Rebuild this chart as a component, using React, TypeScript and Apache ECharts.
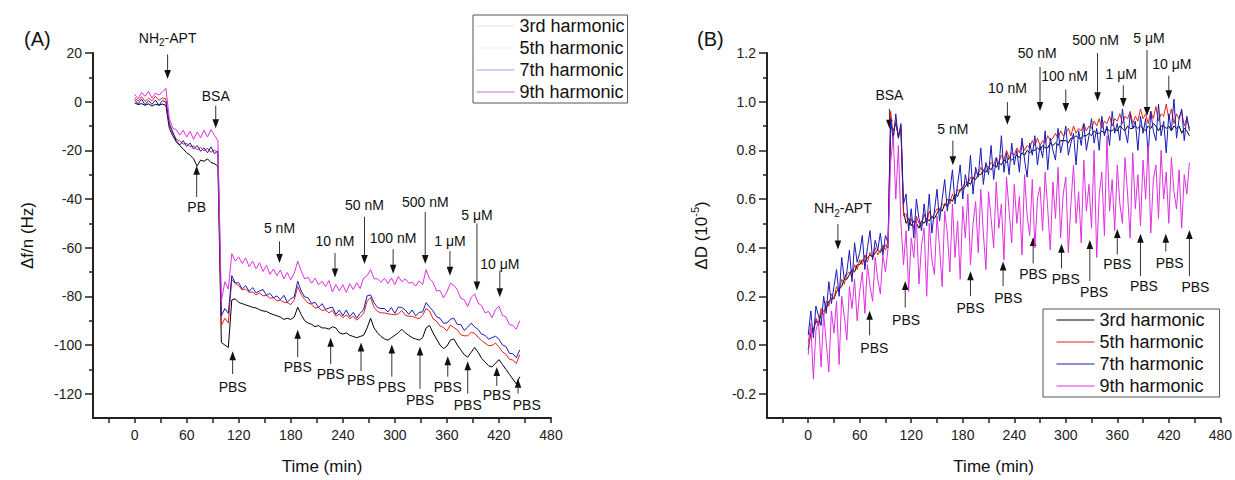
import React, { useEffect, useRef } from 'react';
import * as echarts from 'echarts';

const FONT = '"Liberation Sans", Arial, Helvetica, sans-serif';
const NAMES = ['3rd harmonic', '5th harmonic', '7th harmonic', '9th harmonic'];
const COLORS = ['#000000', '#e3211c', '#1a1ab8', '#e030e0'];
const FADED = ['#e2e2e2', '#ebebeb', '#aaa3d6', '#d86ad8'];

// ---------- Panel A: frequency shift (Hz) ----------
const timeA = [0,4,8,12,16,20,24,28,32,36,40,44,48,52,56,60,64,68,72,76,80,84,88,92,96,100,104,108,112,116,120,124,128,132,136,140,144,148,152,156,160,164,168,172,176,180,184,188,192,196,200,204,208,212,216,220,224,228,232,236,240,244,248,252,256,260,264,268,272,276,280,284,288,292,296,300,304,308,312,316,320,324,328,332,336,340,344,348,352,356,360,364,368,372,376,380,384,388,392,396,400,404,408,412,416,420,424,428,432,436,440,444];

const dfH3 = [-0.5,-1.2,-0.8,-1.5,-0.9,-1.8,-1.1,-1.4,-1.0,-1.5,
  -11,-14,-16.5,-18,-19.5,-21,-22,-23.5,-26.5,-24,
  -24.5,-23.5,-25,-25.5,-26.5,-99,-100,-101,-81.5,-81,
  -82.5,-83,-83.5,-84,-84.5,-84.8,-85.5,-86,-86.2,-87,
  -87.5,-88,-88.5,-89.5,-89,-89.5,-88.5,-84.5,-87.5,-90,
  -91,-91.5,-92.5,-92,-93,-93,-93.5,-92.5,-93,-95,
  -95.5,-95,-96,-96.5,-97,-96.5,-96,-93,-89,-93,
  -95,-96.5,-97.5,-98,-97,-96,-95,-93.5,-95,-96,
  -97,-97.5,-98,-97,-93,-92,-95,-97.5,-100,-101.5,
  -100.5,-98,-97.5,-100,-102,-104,-105,-103,-101,-103,
  -105.5,-107,-108.5,-109,-107.5,-106,-108,-110,-112,-114,
  -116,-113];
const dfH5 = [1.6,0.3,2,0.1,1.4,0.4,2.2,0.6,1.5,1.2,
  -9.5,-13,-15.4,-16.2,-17.4,-17.2,-18.4,-18.2,-19.8,-18.8,
  -20.2,-19.2,-20.8,-19.8,-21.2,-92,-89,-91,-73,-74.8,
  -75.6,-77.4,-77,-78.4,-78.2,-79.4,-78.6,-79.8,-79.6,-80.8,
  -80.6,-81.8,-81.6,-82.4,-82.6,-83.4,-81.5,-76,-79.2,-81.2,
  -82.8,-83.2,-84.8,-84.6,-85.8,-85.6,-86.8,-85.8,-88.2,-87.2,
  -88.8,-87.6,-89.2,-88.2,-89.8,-88.6,-87,-82,-80.5,-84.5,
  -86.2,-86.8,-86.8,-87.2,-87.4,-87.6,-87.2,-85.8,-87.8,-88.2,
  -88.2,-88.8,-89.2,-87.8,-85,-86,-89.2,-90.2,-92.2,-92.8,
  -94.2,-91.8,-92.8,-93.8,-95.8,-96.2,-96.2,-94.8,-95.2,-96.8,
  -98.2,-99.2,-100.2,-100.2,-99.2,-100.8,-102.8,-103.8,-105.8,-106.2,
  -107.6,-104];
const dfH7 = [0.8,-0.9,1,-1.3,0.4,-1.1,0.7,-1.6,0.5,-0.2,
  -9,-12.5,-16,-17.8,-16,-18.4,-17,-19.5,-18,-20.4,
  -19,-21,-18.6,-21.4,-20.2,-88,-85,-87,-71.5,-74.5,
  -74.4,-77,-75.6,-78,-76.4,-78.6,-77.8,-77.2,-79.6,-78.8,
  -80.6,-79.8,-81.4,-79.6,-82.4,-81,-80.2,-73.8,-77.8,-80.2,
  -80.6,-83,-82.4,-84.6,-83,-85.4,-84.8,-84.4,-87.4,-85.6,
  -88,-85.6,-88.4,-86.6,-89,-87,-85.4,-79.8,-79.4,-82.6,
  -84.6,-85,-85,-86.4,-84.6,-87,-84.4,-84.6,-85.6,-87.4,
  -85.6,-88,-86.6,-86.4,-82.6,-84.4,-86,-88.4,-89,-91,
  -91,-89.4,-89,-91.6,-91.6,-94,-92.6,-91,-92.6,-93.6,
  -95.6,-96,-97.6,-97,-96.4,-97.6,-100,-100.6,-103.4,-103.6,
  -105.2,-102];
const dfH9 = [3,1.2,3.8,2.2,4.2,1.5,3.5,2.8,4,5.5,
  -7,-11,-11.5,-13.8,-11.8,-14.5,-12.2,-15.5,-12.5,-14.8,
  -11.8,-14.5,-11.5,-13.8,-16,-82,-74,-77,-62.5,-65.5,
  -63.8,-66.5,-64.2,-67.8,-65.5,-68.6,-66.2,-69.8,-67.2,-71,
  -68.8,-71.5,-69.2,-72.8,-70.2,-73.2,-70.5,-65.5,-69.5,-72.8,
  -72.2,-74.6,-72.5,-75.2,-73.8,-76,-73.5,-78.2,-75.2,-77.8,
  -75.2,-78.4,-74.8,-77.2,-74.4,-76.8,-72.5,-71.5,-69,-72.8,
  -72.8,-74.2,-72.6,-74.8,-72.4,-75.2,-71.8,-74,-72.8,-74.6,
  -74.2,-75.8,-73.6,-75.2,-69,-72.8,-74.2,-77.8,-77.6,-80.6,
  -78.2,-74.6,-75.5,-77.2,-80.8,-81.4,-84.2,-80.4,-79,-82.8,
  -83.8,-86.8,-86.2,-88.8,-85.4,-84,-87.8,-88.4,-91.6,-92,
  -93.5,-90];

// ---------- Panel B: dissipation (1e-5) ----------
const timeB = [0,3,6,9,12,15,18,21,24,27,30,33,36,39,42,45,48,51,54,57,60,63,66,69,72,75,78,81,84,87,90,93,96,99,102,105,108,111,114,117,120,123,126,129,132,135,138,141,144,147,150,153,156,159,162,165,168,171,174,177,180,183,186,189,192,195,198,201,204,207,210,213,216,219,222,225,228,231,234,237,240,243,246,249,252,255,258,261,264,267,270,273,276,279,282,285,288,291,294,297,300,303,306,309,312,315,318,321,324,327,330,333,336,339,342,345,348,351,354,357,360,363,366,369,372,375,378,381,384,387,390,393,396,399,402,405,408,411,414,417,420,423,426,429,432,435,438,441,444];

const dD3 = [-0.02,0.05,0.06,0.1,0.08,0.13,0.14,0.15,0.18,0.19,
  0.19,0.22,0.23,0.24,0.27,0.27,0.29,0.31,0.3,0.33,
  0.33,0.35,0.34,0.36,0.37,0.36,0.38,0.39,0.38,0.4,
  0.41,0.4,0.9,0.88,0.91,0.86,0.89,0.55,0.5,0.52,
  0.49,0.51,0.5,0.48,0.51,0.5,0.52,0.51,0.53,0.52,
  0.54,0.56,0.55,0.58,0.57,0.6,0.59,0.62,0.61,0.64,
  0.64,0.65,0.67,0.66,0.69,0.68,0.7,0.7,0.72,0.71,
  0.73,0.72,0.74,0.73,0.75,0.74,0.76,0.75,0.77,0.76,
  0.77,0.78,0.77,0.79,0.78,0.8,0.79,0.8,0.8,0.81,
  0.8,0.82,0.81,0.81,0.83,0.82,0.83,0.82,0.84,0.84,
  0.84,0.83,0.85,0.85,0.86,0.85,0.85,0.86,0.86,0.87,
  0.86,0.88,0.87,0.87,0.88,0.87,0.89,0.88,0.88,0.89,
  0.88,0.9,0.89,0.88,0.9,0.89,0.89,0.9,0.89,0.9,
  0.89,0.88,0.9,0.89,0.91,0.9,0.88,0.9,0.9,0.89,
  0.9,0.88,0.9,0.89,0.9,0.87,0.89,0.88,0.86];
const dD5 = [0.01,0.07,0.05,0.11,0.09,0.15,0.12,0.18,0.16,0.21,
  0.19,0.24,0.22,0.27,0.25,0.29,0.3,0.28,0.33,0.31,
  0.35,0.33,0.37,0.34,0.38,0.36,0.4,0.37,0.39,0.41,
  0.39,0.43,0.96,0.86,0.92,0.85,0.9,0.53,0.54,0.49,
  0.52,0.48,0.53,0.5,0.49,0.54,0.5,0.55,0.52,0.54,
  0.56,0.55,0.58,0.57,0.6,0.58,0.62,0.6,0.64,0.63,
  0.65,0.67,0.66,0.69,0.68,0.71,0.7,0.73,0.71,0.74,
  0.73,0.75,0.74,0.77,0.75,0.78,0.76,0.8,0.77,0.79,
  0.78,0.81,0.79,0.83,0.8,0.82,0.81,0.84,0.82,0.85,
  0.82,0.84,0.83,0.86,0.84,0.85,0.87,0.85,0.88,0.86,
  0.87,0.89,0.86,0.9,0.87,0.89,0.88,0.91,0.88,0.9,
  0.89,0.92,0.9,0.93,0.89,0.92,0.91,0.94,0.9,0.93,
  0.92,0.95,0.91,0.94,0.93,0.96,0.91,0.94,0.92,0.97,
  0.93,0.95,0.91,0.96,0.93,0.98,0.92,0.95,0.94,0.99,
  0.93,0.97,0.91,0.95,0.93,0.96,0.9,0.93,0.89];
const dD7 = [0.04,0.14,0.03,0.16,0.12,0.08,0.2,0.13,0.26,0.17,
  0.24,0.31,0.2,0.36,0.27,0.3,0.39,0.26,0.42,0.34,
  0.38,0.45,0.31,0.4,0.47,0.35,0.43,0.39,0.46,0.37,
  0.45,0.42,0.93,0.84,0.95,0.85,0.91,0.58,0.62,0.47,
  0.56,0.44,0.6,0.52,0.47,0.58,0.49,0.62,0.46,0.55,
  0.64,0.51,0.6,0.68,0.55,0.63,0.72,0.58,0.66,0.74,
  0.6,0.7,0.65,0.78,0.62,0.73,0.69,0.81,0.66,0.75,
  0.7,0.82,0.68,0.77,0.72,0.86,0.71,0.79,0.7,0.83,
  0.74,0.8,0.71,0.85,0.76,0.69,0.83,0.78,0.86,0.74,
  0.82,0.77,0.88,0.72,0.85,0.8,0.76,0.89,0.79,0.84,
  0.9,0.78,0.83,0.87,0.74,0.88,0.82,0.91,0.8,0.86,
  0.93,0.83,0.89,0.8,0.94,0.86,0.9,0.82,0.96,0.87,
  0.91,0.84,0.97,0.88,0.83,0.95,0.89,0.92,0.8,0.94,
  0.87,0.93,0.78,0.96,0.88,0.84,0.99,0.86,0.92,0.79,
  0.95,0.88,1.01,0.85,0.93,0.97,0.84,0.94,0.88];
const dD9 = [-0.04,0.09,-0.14,0.06,0.1,-0.09,0.13,0.01,-0.11,0.14,
  0.05,0.18,-0.08,0.2,0.12,0.02,0.24,0.15,0.27,0.1,
  0.22,0.3,0.13,0.33,0.24,0.18,0.36,0.27,0.21,0.37,
  0.3,0.4,0.75,0.86,0.6,0.82,0.5,0.33,0.47,0.22,
  0.44,0.36,0.52,0.25,0.41,0.48,0.2,0.5,0.35,0.29,
  0.53,0.4,0.24,0.55,0.46,0.3,0.58,0.36,0.51,0.27,
  0.57,0.44,0.62,0.33,0.5,0.59,0.38,0.64,0.46,0.31,
  0.63,0.52,0.4,0.67,0.48,0.58,0.35,0.69,0.55,0.42,
  0.66,0.5,0.61,0.37,0.7,0.53,0.45,0.68,0.4,0.6,
  0.65,0.47,0.71,0.56,0.39,0.67,0.52,0.73,0.44,0.62,
  0.69,0.38,0.58,0.74,0.5,0.63,0.42,0.76,0.55,0.66,
  0.48,0.8,0.36,0.62,0.71,0.45,0.86,0.55,0.68,0.47,
  0.74,0.58,0.5,0.77,0.62,0.44,0.79,0.56,0.7,0.49,
  0.76,0.6,0.82,0.46,0.68,0.74,0.52,0.8,0.6,0.71,
  0.5,0.77,0.63,0.56,0.72,0.48,0.7,0.62,0.75];

// ---------- axis ticks ----------
const xLabelVals = [0, 60, 120, 180, 240, 300, 360, 420, 480];
const xTickVals = [-30, 0, 30, 60, 90, 120, 150, 180, 210, 240, 270, 300, 330, 360, 390, 420, 450, 480];
const yMajorA = [-120, -100, -80, -60, -40, -20, 0, 20];
const yMinorA = [-110, -90, -70, -50, -30, -10, 10];
const yMajorB = [-0.2, 0, 0.2, 0.4, 0.6, 0.8, 1.0, 1.2];
const yMinorB = [-0.1, 0.1, 0.3, 0.5, 0.7, 0.9, 1.1];

// ---------- annotations: [label, arrow time, arrow start, arrow tip, text time, text value] ----------
const notesA: [string, number, number, number, number, number][] = [
  ['NH{sub|2}-APT', 38, 19.4, 9.3, 38, 26.3],
  ['BSA', 93.5, -1.6, -10.9, 93.5, 2.4],
  ['PB', 71.5, -39.2, -26.3, 71.5, -43.4],
  ['5 nM', 167, -57.4, -66.3, 167, -52.1],
  ['10 nM', 231, -62.2, -72.3, 231, -57.2],
  ['50 nM', 265, -47.3, -66.7, 265, -42.4],
  ['100 nM', 298, -60.6, -70.7, 298, -56.2],
  ['500 nM', 335, -45.3, -66.7, 335, -41.2],
  ['1 μM', 363.5, -61.4, -71.5, 363.5, -57.4],
  ['5 μM', 394.6, -50.1, -77.6, 394.6, -46.5],
  ['10 μM', 421, -69.5, -80.4, 421, -66.7],
  ['PBS', 113, -111.9, -102.6, 113, -117.2],
  ['PBS', 188, -105, -93.7, 188, -109.1],
  ['PBS', 226, -107.9, -97, 226, -111.9],
  ['PBS', 261, -110.7, -99, 261, -114.3],
  ['PBS', 296.5, -113, -99.8, 296.5, -117.2],
  ['PBS', 329, -118, -100.6, 329, -122.4],
  ['PBS', 361, -113, -104.6, 361, -117.2],
  ['PBS', 384, -120, -106.7, 384, -124.8],
  ['PBS', 417.5, -116.8, -109, 417.5, -120.4],
  ['PBS', 442, -120, -113.9, 452, -124.8],
];
const notesB: [string, number, number, number, number, number][] = [
  ['NH{sub|2}-APT', 34.6, 0.497, 0.392, 40.4, 0.562],
  ['BSA', 94.6, 0.97, 0.889, 94.6, 1.026],
  ['5 nM', 168.5, 0.84, 0.739, 168.5, 0.889],
  ['10 nM', 232, 0.998, 0.905, 232, 1.055],
  ['50 nM', 270, 1.143, 0.962, 266.7, 1.2],
  ['100 nM', 300, 1.05, 0.958, 298.6, 1.107],
  ['500 nM', 337, 1.2, 1.002, 334.6, 1.253],
  ['1 μM', 367, 1.067, 0.978, 364.6, 1.115],
  ['5 μM', 394.6, 1.212, 0.941, 397, 1.261],
  ['10 μM', 420, 1.107, 1.01, 423.5, 1.156],
  ['PBS', 71.5, 0.04, 0.141, 77, -0.012],
  ['PBS', 113, 0.154, 0.263, 114, 0.101],
  ['PBS', 189, 0.202, 0.303, 189, 0.154],
  ['PBS', 227, 0.242, 0.343, 233, 0.194],
  ['PBS', 262, 0.335, 0.444, 262, 0.291],
  ['PBS', 295, 0.315, 0.416, 300, 0.271],
  ['PBS', 328, 0.263, 0.432, 333, 0.218],
  ['PBS', 360, 0.372, 0.477, 360, 0.331],
  ['PBS', 387, 0.283, 0.457, 391, 0.242],
  ['PBS', 416.5, 0.384, 0.457, 421, 0.335],
  ['PBS', 444, 0.283, 0.473, 451, 0.238],
];

const zip = (xs: number[], ys: number[]) => ys.map((y, i) => [xs[i], y]);

const axisLine = { show: true, onZero: false, lineStyle: { color: '#222', width: 2 } };
const labelStyle = { color: '#222', fontSize: 14, fontFamily: FONT };

function xAxisFor(gridIndex: number) {
  return {
    type: 'value', gridIndex, min: -48, max: 480,
    name: 'Time (min)', nameLocation: 'middle', nameGap: 40,
    nameTextStyle: { fontSize: 17, color: '#111', fontFamily: FONT },
    axisLine,
    axisTick: { show: true, length: 5, customValues: xTickVals, lineStyle: { color: '#222', width: 1.5 } },
    axisLabel: { ...labelStyle, margin: 10, customValues: xLabelVals },
    splitLine: { show: false },
  };
}

function yMain(gridIndex: number, min: number, max: number, major: number[], name: string, fmt: (v: number) => string) {
  return {
    type: 'value', gridIndex, min, max, position: 'left',
    name, nameLocation: 'middle', nameGap: 54,
    nameTextStyle: { fontSize: 17, color: '#111', fontFamily: FONT, lineHeight: 24, rich: { sup: { fontSize: 11, fontFamily: FONT, color: '#111', verticalAlign: 'top' } } },
    axisLine,
    axisTick: { show: true, length: 8, customValues: major, lineStyle: { color: '#222', width: 1.5 } },
    axisLabel: { ...labelStyle, margin: 11, customValues: major, formatter: fmt },
    splitLine: { show: false },
  };
}

function yMinor(gridIndex: number, min: number, max: number, minor: number[]) {
  return {
    type: 'value', gridIndex, min, max, position: 'left', offset: 0,
    axisLine: { show: false, onZero: false },
    axisTick: { show: true, length: 4, customValues: minor, lineStyle: { color: '#222', width: 1.5 } },
    axisLabel: { show: false },
    splitLine: { show: false },
  };
}

function lineSeries(name: string, color: string, xi: number, yi: number, data: number[][]) {
  return {
    type: 'line', name, xAxisIndex: xi, yAxisIndex: yi, data,
    symbol: 'none', showSymbol: false, clip: false,
    lineStyle: { color, width: 1 }, itemStyle: { color },
  };
}

function arrowNotes(chart: any, notes: [string, number, number, number, number, number][], xi: number, yi: number) {
  const els: any[] = [];
  const finder = { xAxisIndex: xi, yAxisIndex: yi };
  for (const [label, t, from, to, tt, vt] of notes) {
    const p0 = chart.convertToPixel(finder, [t, from]);
    const p1 = chart.convertToPixel(finder, [t, to]);
    const pt = chart.convertToPixel(finder, [tt, vt]);
    const dx = p1[0] - p0[0];
    const dy = p1[1] - p0[1];
    const len = Math.hypot(dx, dy) || 1;
    const ux = dx / len, uy = dy / len;
    const nx = -uy, ny = ux;
    const hl = 9, hw = 3.3;
    const bx = p1[0] - ux * hl, by = p1[1] - uy * hl;
    els.push({ type: 'line', silent: true, shape: { x1: p0[0], y1: p0[1], x2: bx + ux * 2, y2: by + uy * 2 }, style: { stroke: '#333', lineWidth: 1 } });
    els.push({ type: 'polygon', silent: true, shape: { points: [[p1[0], p1[1]], [bx + nx * hw, by + ny * hw], [bx - nx * hw, by - ny * hw]] }, style: { fill: '#111' } });
    els.push({
      type: 'text', silent: true, x: pt[0], y: pt[1],
      style: {
        text: label, fill: '#111', fontSize: 14, fontFamily: FONT, lineHeight: 20,
        textAlign: 'center', textVerticalAlign: 'middle', align: 'center', verticalAlign: 'middle',
        rich: { sub: { fontSize: 10, fontFamily: FONT, fill: '#111', verticalAlign: 'bottom' } },
      },
    });
  }
  return els;
}

const hiddenSymbol = { color: 'rgba(0,0,0,0)', opacity: 0, borderWidth: 0 };

export default function App() {
  const ref = useRef<HTMLDivElement>(null);
  useEffect(() => {
    if (!ref.current) return;
    const chart = echarts.init(ref.current, null, { renderer: 'svg' });
    const option: any = {
      animation: false,
      backgroundColor: '#ffffff',
      textStyle: { fontFamily: FONT },
      title: [
        { text: '(A)', left: 19, top: 24, textStyle: { fontSize: 20, fontWeight: 'normal', color: '#111', fontFamily: FONT } },
        { text: '(B)', left: 692, top: 24, textStyle: { fontSize: 20, fontWeight: 'normal', color: '#111', fontFamily: FONT } },
      ],
      grid: [
        { left: 93, top: 53, width: 458, height: 371 },
        { left: 767, top: 53, width: 457, height: 371 },
      ],
      legend: [
        {
          orient: 'vertical', left: 473, top: 15, itemWidth: 38, itemHeight: 12, itemGap: 4,
          padding: [2, 3, 2, 3], borderColor: '#555', borderWidth: 1, selectedMode: false,
          textStyle: { fontSize: 18, color: '#111', fontFamily: FONT },
          itemStyle: hiddenSymbol,
          data: NAMES.map((n, i) => ({ name: n, lineStyle: { color: FADED[i], width: 1 }, itemStyle: hiddenSymbol })),
        },
        {
          orient: 'vertical', left: 1043, top: 309, itemWidth: 38, itemHeight: 12, itemGap: 4,
          padding: [2, 15, 2, 13], borderColor: '#555', borderWidth: 1, selectedMode: false,
          textStyle: { fontSize: 18, color: '#111', fontFamily: FONT },
          itemStyle: hiddenSymbol,
          data: NAMES.map((n, i) => ({ name: n, lineStyle: { color: COLORS[i], width: 1 }, itemStyle: hiddenSymbol })),
        },
      ],
      xAxis: [xAxisFor(0), xAxisFor(1)],
      yAxis: [
        yMain(0, -130, 20, yMajorA, 'Δf/n (Hz)', (v: number) => String(v)),
        yMinor(0, -130, 20, yMinorA),
        yMain(1, -0.3, 1.2, yMajorB, 'ΔD (10{sup|-5})', (v: number) => v.toFixed(1)),
        yMinor(1, -0.3, 1.2, yMinorB),
      ],
      series: [
        lineSeries(NAMES[0], COLORS[0], 0, 0, zip(timeA, dfH3)),
        lineSeries(NAMES[1], COLORS[1], 0, 0, zip(timeA, dfH5)),
        lineSeries(NAMES[2], COLORS[2], 0, 0, zip(timeA, dfH7)),
        lineSeries(NAMES[3], COLORS[3], 0, 0, zip(timeA, dfH9)),
        lineSeries(NAMES[0], COLORS[0], 1, 2, zip(timeB, dD3)),
        lineSeries(NAMES[1], COLORS[1], 1, 2, zip(timeB, dD5)),
        lineSeries(NAMES[2], COLORS[2], 1, 2, zip(timeB, dD7)),
        lineSeries(NAMES[3], COLORS[3], 1, 2, zip(timeB, dD9)),
      ],
    };
    chart.setOption(option);
    const graphic = [...arrowNotes(chart, notesA, 0, 0), ...arrowNotes(chart, notesB, 1, 2)];
    chart.setOption({ graphic });
    return () => chart.dispose();
  }, []);
  return <div ref={ref} style={{ position: 'fixed', left: 0, top: 0, width: 1235, height: 480, background: '#fff' }} />;
}
